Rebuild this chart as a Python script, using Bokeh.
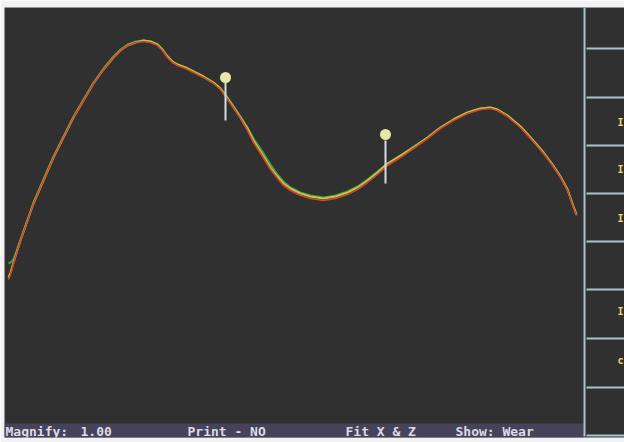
from bokeh.plotting import figure
from bokeh.models import Range1d
from bokeh.core.properties import value
from bokeh.embed import file_html
from bokeh.resources import INLINE

# Profile traces (screen units, y grows downward)
profile_x = [8, 10, 13, 20, 33, 43, 53, 63, 73, 83, 93, 103, 113, 120, 127, 135, 143, 150,
             157, 162, 167, 172, 177, 185, 193, 203, 213, 220, 225, 232, 240, 247, 253, 262,
             270, 277, 283, 290, 300, 310, 323, 335, 347, 357, 367, 377, 387, 400, 413, 427,
             440, 453, 467, 480, 490, 497, 507, 520, 530, 543, 552, 560, 567, 573, 576]
red_y = [279, 274, 263, 240, 203, 180, 157, 137, 117, 100, 83, 69, 57, 50, 45, 42, 41, 42,
         45, 50, 57, 62, 65, 68, 72, 77, 83, 89, 96, 106, 118, 130, 142, 156,
         169, 178, 185, 190, 195, 198, 200, 198, 194, 189, 182, 174, 165, 157, 148, 138,
         128, 120, 113, 109, 108, 110, 116, 127, 138, 153, 165, 177, 190, 207, 215]
yellow_y = [277, 272, 262, 240, 203, 180, 157, 137, 117, 100, 83, 69, 57, 50, 45, 42, 40, 41,
            44, 49, 56, 61, 64, 67, 71, 76, 82, 88, 95, 105, 117, 128, 140, 154,
            167, 176, 183, 188, 193, 196, 198, 196, 192, 187, 180, 172, 163, 155, 147, 137,
            127, 119, 112, 108, 107, 109, 115, 126, 137, 152, 164, 176, 189, 206, 214]
green_y = [263, 262, 259, 239, 202, 179, 156, 136, 116, 99, 82, 68, 56, 49, 44, 41, 40, 41,
           44, 49, 56, 61, 64, 67, 71, 76, 82, 88, 94, 104, 116, 127, 138, 151,
           164, 174, 181, 187, 192, 195, 197, 195, 191, 186, 179, 171, 163, 155, 146, 137,
           127, 119, 112, 108, 107, 109, 115, 126, 137, 152, 164, 176, 189, 206, 214]

# Measurement pins
pin_x = [225, 385]
pin_head = [77, 134]
pin_top = [82, 140]
pin_bottom = [120, 183]

# Status bar
status_text = ["Magnify:", "1.00", "Print - NO", "Fit X & Z", "Show: Wear"]
status_x = [5, 80, 187, 345, 455]

# Side panel
panel_rows = [48, 97, 145, 193, 241, 289, 338, 387, 435]
panel_label_y = [122, 169, 218, 311, 360]
panel_labels = ["I", "I", "I", "I", "c"]

p = figure(width=624, height=442, x_range=Range1d(4, 624), y_range=Range1d(437, 7),
           min_border_left=4, min_border_top=7, min_border_right=0, min_border_bottom=5,
           toolbar_location=None, output_backend="svg",
           x_axis_location=None, y_axis_location=None,
           background_fill_color="#303030", border_fill_color="#f2f2f4",
           outline_line_color=None)
p.grid.visible = False

# status bar background
p.quad(left=[4], right=[584], top=[423], bottom=[437], fill_color="#46425a", line_color=None)

# traces
p.line(profile_x, green_y, line_color="#3c9a4a", line_width=2)
p.line(profile_x, yellow_y, line_color="#c8c048", line_width=2)
p.line(profile_x, red_y, line_color="#cc4a2a", line_width=1.6)

# pins
p.segment(x0=pin_x, y0=pin_top, x1=pin_x, y1=pin_bottom, line_color="#d4dce4", line_width=2)
p.scatter(pin_x, pin_head, size=11, fill_color="#e6e8a8", line_color=None)

# side panel frame
p.segment(x0=[584], y0=[7], x1=[584], y1=[436], line_color="#a8c4cc", line_width=2)
p.segment(x0=[586] * len(panel_rows), y0=panel_rows, x1=[624] * len(panel_rows), y1=panel_rows,
          line_color="#a8c4cc", line_width=2)
p.text(x=[623] * len(panel_labels), y=panel_label_y, text=panel_labels,
       text_font=value("DejaVu Sans Mono"), text_font_style="bold", text_font_size="10px",
       text_align="right", text_baseline="middle", text_color="#e0dc70")

# status text
p.text(x=status_x, y=[431] * len(status_x), text=status_text,
       text_font=value("DejaVu Sans Mono"), text_font_style="bold", text_font_size="13px",
       text_baseline="middle", text_color="#dcdce6")

open("out.html", "w").write(file_html(p, INLINE))
